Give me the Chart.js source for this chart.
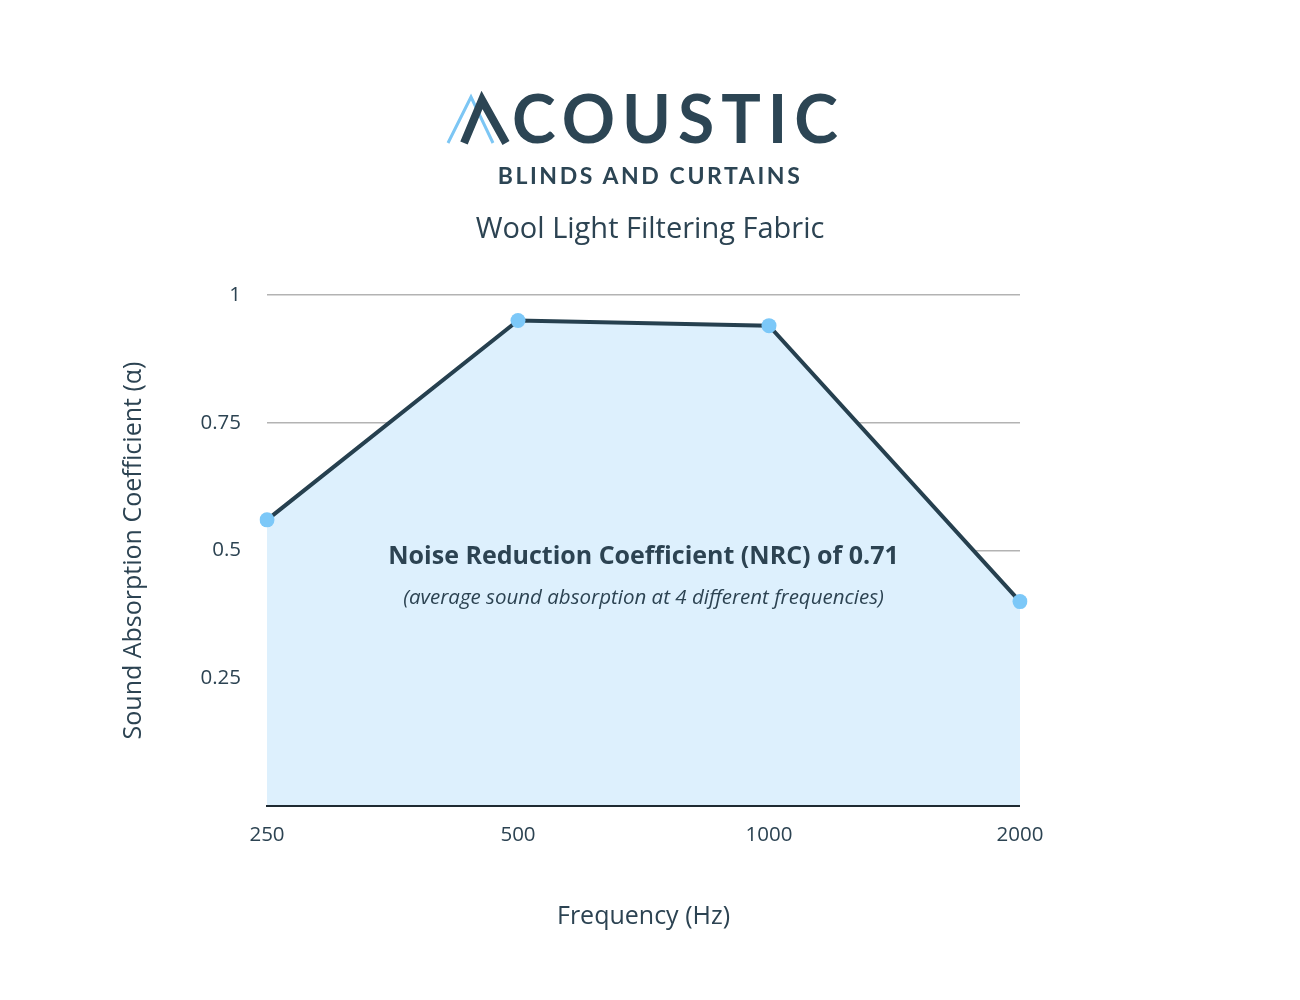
<!DOCTYPE html>
<html>
<head>
<meta charset="utf-8">
<script src="https://cdn.jsdelivr.net/npm/chart.js@4/dist/chart.umd.min.js"></script>
<style>
  html, body { margin: 0; padding: 0; background: #fff; }
  #wrap { position: relative; width: 1300px; height: 1000px; }
  #chart { position: absolute; left: 0; top: 0; }
  .hdr { position: absolute; left: 0; width: 1300px; text-align: center; color: #2c4352; }
  #logo { position: absolute; left: 440px; top: 88px; }
  #brand { position: absolute; left: 512px; top: 78px; font-family: Lato, sans-serif; font-weight: 700;
           font-size: 66px; letter-spacing: 7px; color: #2c4554; line-height: 80px; }
  #sub { top: 160px; font-family: Lato, sans-serif; font-weight: 700; font-size: 23px; letter-spacing: 2.6px;
         line-height: 30px; color: #2c4554; }
  #title { top: 207px; font-family: "Open Sans", sans-serif; font-size: 29px; line-height: 40px; }
</style>
</head>
<body>
<div id="wrap">
  <canvas id="chart" width="1300" height="1000"></canvas>
  <svg id="logo" width="80" height="64" viewBox="0 0 80 64">
    <polyline points="8,55 31,9 53,55" fill="none" stroke="#7cc6f4" stroke-width="3"/>
    <polyline points="24,55 42,12 66,55" fill="none" stroke="#2c4554" stroke-width="8" stroke-linejoin="miter"/>
  </svg>
  <div id="brand">COUSTIC</div>
  <div class="hdr" id="sub">BLINDS AND CURTAINS</div>
  <div class="hdr" id="title">Wool Light Filtering Fabric</div>
</div>
<script>
// values
const frequencies = ["250", "500", "1000", "2000"];
const absorption = [0.56, 0.95, 0.94, 0.40];
const yTicks = [0.25, 0.5, 0.75, 1];
const nrcText = "Noise Reduction Coefficient (NRC) of 0.71";
const nrcNote = "(average sound absorption at 4 different frequencies)";

const textColor = "#2c4352";

// NRC note in the middle of the plot, and the x axis line drawn over the fill
const overlay = {
	id: "overlay",
	afterDatasetsDraw(chart) {
		const { ctx, chartArea } = chart;
		const cx = (chartArea.left + chartArea.right) / 2;
		ctx.save();
		ctx.strokeStyle = "#1e2a32";
		ctx.lineWidth = 2;
		ctx.beginPath();
		ctx.moveTo(chartArea.left - 1, chartArea.bottom);
		ctx.lineTo(chartArea.right, chartArea.bottom);
		ctx.stroke();

		ctx.fillStyle = textColor;
		ctx.textAlign = "center";
		ctx.textBaseline = "middle";
		ctx.font = "bold 25px 'Open Sans'";
		ctx.fillText(nrcText, cx, chartArea.top + 262);
		ctx.font = "italic 20.5px 'Open Sans'";
		ctx.fillText(nrcNote, cx, chartArea.top + 303);
		ctx.restore();
	}
};

new Chart(document.getElementById("chart"), {
	type: "line",
	data: {
		labels: frequencies,
		datasets: [{
			data: absorption,
			borderColor: "#26404f",
			borderWidth: 4,
			backgroundColor: "#ddf0fd",
			fill: "origin",
			tension: 0,
			pointRadius: 7.5,
			pointBackgroundColor: "#7cc8f8",
			pointBorderWidth: 0
		}]
	},
	options: {
		responsive: false,
		animation: false,
		devicePixelRatio: 1,
		layout: { padding: { left: 115, right: 280, top: 295, bottom: 64 } },
		plugins: { legend: { display: false }, tooltip: { enabled: false } },
		scales: {
			x: {
				offset: false,
				grid: { display: false },
				border: { display: false },
				ticks: { color: textColor, font: { family: "Open Sans", size: 20.5 }, padding: 9, maxRotation: 0 },
				title: { display: true, text: "Frequency (Hz)", color: textColor,
					font: { family: "Open Sans", size: 25 }, padding: { top: 4, bottom: 4 } },
				afterFit(scale) { scale.height = 130; }
			},
			y: {
				min: 0,
				max: 1,
				afterBuildTicks(scale) { scale.ticks = yTicks.map(v => ({ value: v })); },
				grid: { color: "#b3b3b3", lineWidth: 1.6, drawTicks: false },
				border: { display: false },
				ticks: { color: textColor, font: { family: "Open Sans", size: 20.5 }, padding: 26,
					callback: v => String(v) },
				title: { display: true, text: "Sound Absorption Coefficient (α)", color: textColor,
					font: { family: "Open Sans", size: 25 }, padding: { top: 4, bottom: 4 } },
				afterFit(scale) { scale.width = 152; }
			}
		}
	},
	plugins: [overlay]
});
</script>
</body>
</html>
